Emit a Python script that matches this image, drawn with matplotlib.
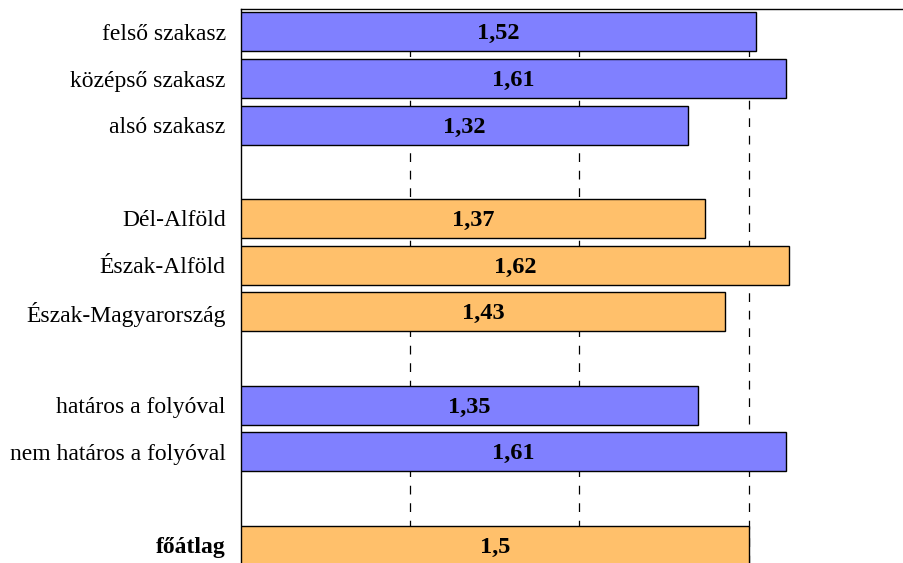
import matplotlib
matplotlib.use("Agg")
import matplotlib.pyplot as plt

# rows from top to bottom; None marks an empty separator row
labels = ["felső szakasz", "középső szakasz", "alsó szakasz", "",
          "Dél-Alföld", "Észak-Alföld", "Észak-Magyarország", "",
          "határos a folyóval", "nem határos a folyóval", "",
          "főátlag"]
values = [1.52, 1.61, 1.32, None,
          1.37, 1.62, 1.43, None,
          1.35, 1.61, None,
          1.5]
value_text = ["1,52", "1,61", "1,32", "",
              "1,37", "1,62", "1,43", "",
              "1,35", "1,61", "",
              "1,5"]
groups = ["blue", "blue", "blue", None,
          "orange", "orange", "orange", None,
          "blue", "blue", None,
          "orange"]

COLORS = {"blue": "#8080FF", "orange": "#FFC06B"}

plt.rcParams["font.family"] = ["Liberation Serif", "DejaVu Serif"]

fig = plt.figure(figsize=(9.04, 5.63), dpi=100)
W, H = 904, 563
left, right = 241, 918
top, bottom = 8.5, 568.5
ax = fig.add_axes([left / W, 1 - bottom / H, (right - left) / W, (bottom - top) / H])

for i, (v, g, t) in enumerate(zip(values, groups, value_text)):
    if v is None:
        continue
    ax.barh(i, v, height=0.84, color=COLORS[g], edgecolor="black",
            linewidth=1.0, zorder=3)
    ax.text(v / 2, i + 0.04, t, ha="center", va="center", fontsize=17.5,
            fontweight="bold", zorder=4)

ax.set_xlim(0, 2)
ax.set_ylim(len(labels) - 0.5, -0.5)
ax.set_yticks(range(len(labels)))
ax.set_yticklabels(labels, fontsize=17)
for lbl in ax.get_yticklabels():
    if lbl.get_text() == "főátlag":
        lbl.set_fontweight("bold")
ax.tick_params(axis="y", length=0, pad=11)
ax.set_xticks([0.5, 1.0, 1.5, 2.0])
ax.tick_params(axis="x", length=0, labelbottom=False)
ax.grid(axis="x", color="black", linestyle=(0, (7, 7)), linewidth=0.9, zorder=0)
for s in ax.spines.values():
    s.set_color("black")
    s.set_linewidth(1.0)

fig.savefig("out.png", dpi=100)
